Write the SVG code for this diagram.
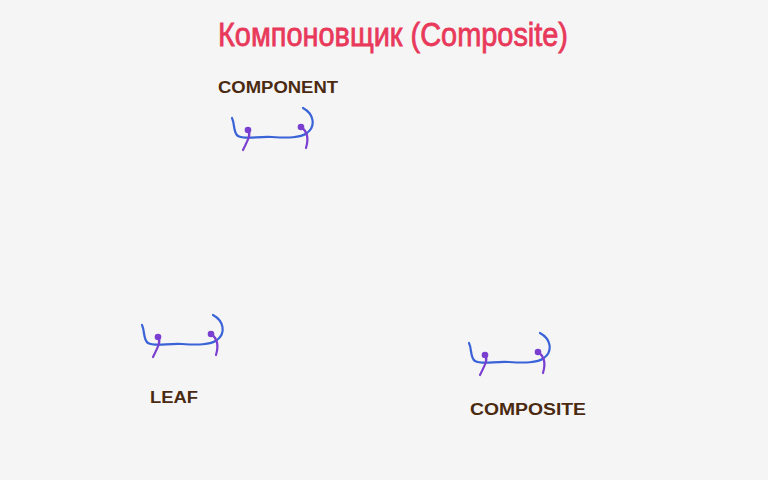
<svg xmlns="http://www.w3.org/2000/svg" xmlns:xlink="http://www.w3.org/1999/xlink" width="768" height="480" viewBox="0 0 768 480">
<style>
.title{font-family:"Liberation Sans",sans-serif;font-size:34px;fill:#e8395a;stroke:#e8395a;stroke-width:0.8}
.lbl{font-family:"Liberation Sans",sans-serif;font-size:16px;font-weight:bold;fill:#4a2a10}
.blue{fill:none;stroke:#3a63d8;stroke-width:2.2;stroke-linecap:round}
.purp{fill:none;stroke:#7a3fd0;stroke-width:2.2;stroke-linecap:round}
.dot{fill:#7a3fd0}
</style>
<defs>
<g id="smile">
<path class="blue" d="M232,118 C235,124 233,133 238,136 C245,140 258,136 272,137 C288,138 300,138 307,133 C316,126 314,114 303,108"/>
<circle class="dot" cx="248" cy="130" r="3.3"/>
<path class="purp" d="M248,130 C251,134 249,138 243,150"/>
<circle class="dot" cx="301" cy="127" r="3.3"/>
<path class="purp" d="M301,127 C307,131 309,138 306,148"/>
</g>
</defs>
<rect width="768" height="480" fill="#f5f5f5"/>
<text class="title" x="218" y="46" textLength="350" lengthAdjust="spacingAndGlyphs">Компоновщик (Composite)</text>
<g id="component">
<text class="lbl" x="218" y="93" textLength="120" lengthAdjust="spacingAndGlyphs">COMPONENT</text>
<use xlink:href="#smile"/>
</g>
<g id="leaf">
<text class="lbl" x="150" y="403" textLength="48" lengthAdjust="spacingAndGlyphs">LEAF</text>
<use xlink:href="#smile" transform="translate(-90,207)"/>
</g>
<g id="composite">
<text class="lbl" x="470" y="415" textLength="116" lengthAdjust="spacingAndGlyphs">COMPOSITE</text>
<use xlink:href="#smile" transform="translate(237,225)"/>
</g>
<g id="connectors"></g>
</svg>
